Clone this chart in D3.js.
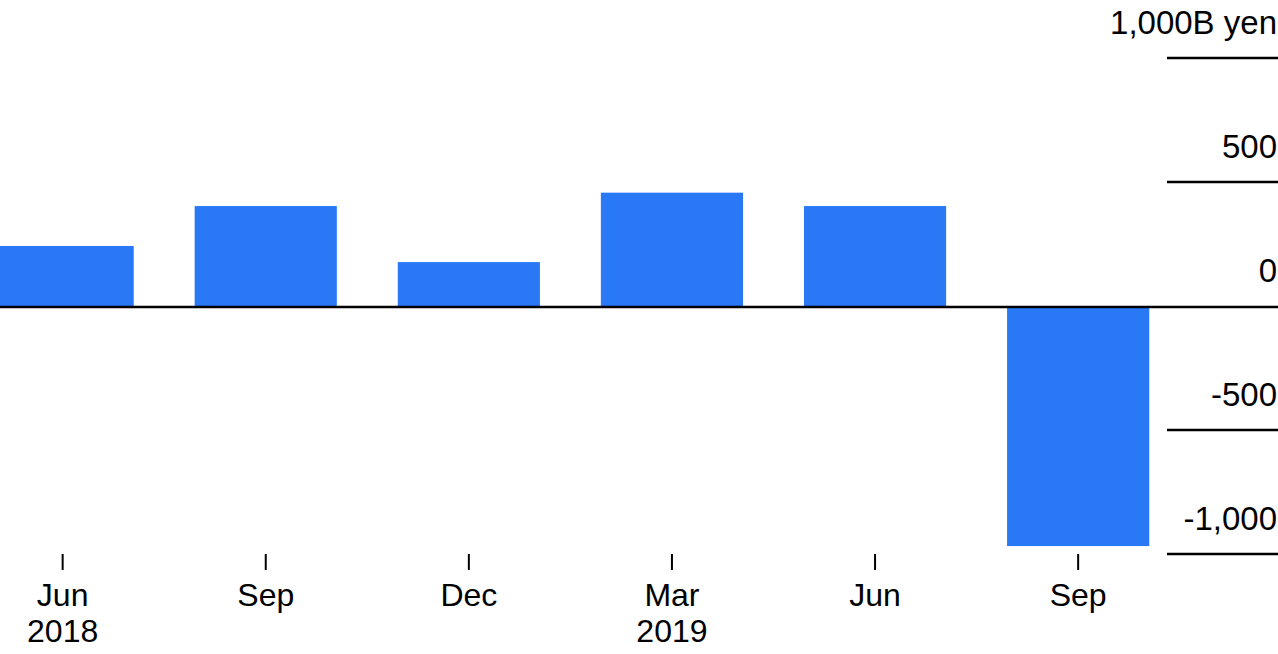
<!DOCTYPE html>
<html>
<head>
<meta charset="utf-8">
<script src="https://cdn.jsdelivr.net/npm/d3@7"></script>
<style>
  html, body { margin: 0; padding: 0; background: #fff; overflow: hidden; }
  svg { display: block; font-family: "Helvetica Neue", Helvetica, "Liberation Sans", Arial, sans-serif; }
</style>
</head>
<body>
<svg id="chart"></svg>
<script>
// quarterly values, billion yen
const quarters = ["Jun 2018", "Sep 2018", "Dec 2018", "Mar 2019", "Jun 2019", "Sep 2019"];
const monthLabels = ["Jun", "Sep", "Dec", "Mar", "Jun", "Sep"];
const yearLabels = ["2018", "", "", "2019", "", ""];
const values = [242, 403, 177, 457, 403, -968];
const yTicks = [1000, 500, 0, -500, -1000];
const yTickLabels = ["1,000B yen", "500", "0", "-500", "-1,000"];

const width = 1278;
const height = 654;
const barColor = "#2979f7";

const svg = d3.select("#chart").attr("width", width).attr("height", height);

const x = d3.scaleBand()
  .domain(quarters)
  .range([-38.9, 1179.7])
  .paddingInner(0.3)
  .paddingOuter(0.15);

const y = d3.scaleLinear()
  .domain([-1000, 1000])
  .range([554, 58]);

// gridlines on the right
svg.append("g")
  .selectAll("line")
  .data(yTicks.filter(d => d !== 0))
  .enter()
  .append("line")
  .attr("x1", 1167)
  .attr("x2", width)
  .attr("y1", d => y(d))
  .attr("y2", d => y(d))
  .attr("stroke", "#000")
  .attr("stroke-width", 2.5);

svg.append("g")
  .selectAll("text")
  .data(yTicks)
  .enter()
  .append("text")
  .attr("x", 1277)
  .attr("y", d => y(d) - 24)
  .attr("text-anchor", "end")
  .attr("font-size", 33)
  .attr("fill", "#000")
  .text((d, i) => yTickLabels[i]);

// bars
svg.append("g")
  .selectAll("rect")
  .data(values)
  .enter()
  .append("rect")
  .attr("x", (d, i) => x(quarters[i]))
  .attr("width", x.bandwidth())
  .attr("y", d => y(Math.max(0, d)))
  .attr("height", d => Math.abs(y(d) - y(0)))
  .attr("fill", barColor);

// zero line
svg.append("line")
  .attr("x1", 0)
  .attr("x2", width)
  .attr("y1", y(0) + 1)
  .attr("y2", y(0) + 1)
  .attr("stroke", "#000")
  .attr("stroke-width", 2.5);

// x axis ticks and labels
const xg = svg.append("g")
  .selectAll("g")
  .data(quarters)
  .enter()
  .append("g")
  .attr("transform", d => `translate(${x(d) + x.bandwidth() / 2},0)`);

xg.append("line")
  .attr("y1", 554)
  .attr("y2", 570)
  .attr("stroke", "#000")
  .attr("stroke-width", 2);

xg.append("text")
  .attr("y", 606)
  .attr("text-anchor", "middle")
  .attr("font-size", 32)
  .text((d, i) => monthLabels[i]);

xg.append("text")
  .attr("y", 642)
  .attr("text-anchor", "middle")
  .attr("font-size", 32)
  .text((d, i) => yearLabels[i]);
</script>
</body>
</html>
